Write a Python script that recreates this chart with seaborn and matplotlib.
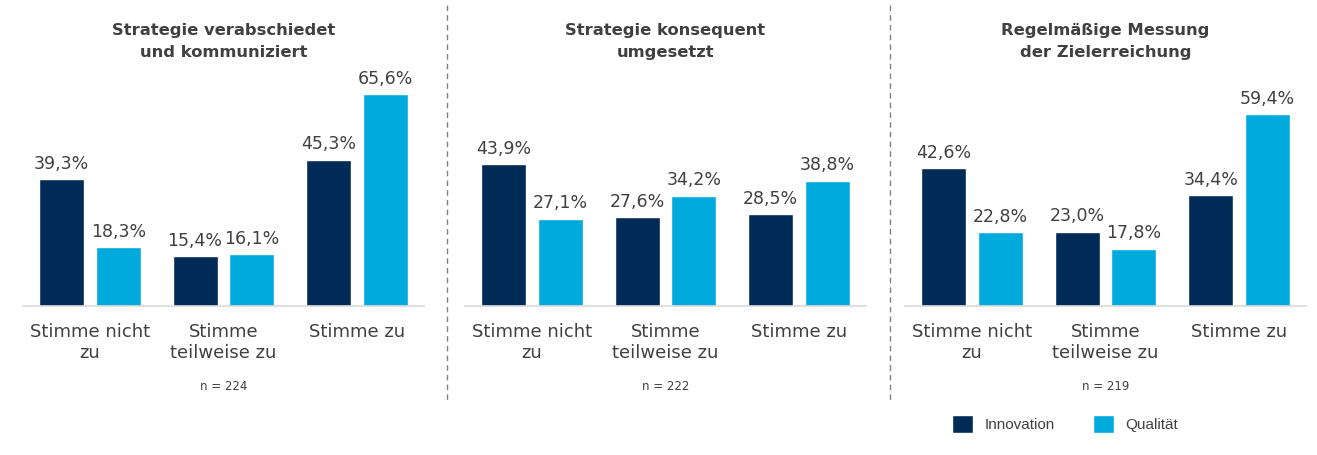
import matplotlib.pyplot as plt
import pandas as pd
import seaborn as sns
from matplotlib.lines import Line2D
from matplotlib.patches import Patch

categories = ["Stimme nicht\nzu", "Stimme\nteilweise zu", "Stimme zu"]
series = ["Innovation", "Qualität"]
titles = ["Strategie verabschiedet\nund kommuniziert",
          "Strategie konsequent\numgesetzt",
          "Regelmäßige Messung\nder Zielerreichung"]
innovation = [[39.3, 15.4, 45.3], [43.9, 27.6, 28.5], [42.6, 23.0, 34.4]]
qualitaet = [[18.3, 16.1, 65.6], [27.1, 34.2, 38.8], [22.8, 17.8, 59.4]]
n_values = [224, 222, 219]

colors = {"Innovation": "#002B56", "Qualität": "#00AADD"}
text_col = "#404040"

sns.set_style("white")
plt.rcParams['font.family'] = ['DejaVu Sans']

fig = plt.figure(figsize=(13.17, 4.55), dpi=100)
W, H = 1317, 455
lefts = [23, 465, 905]
width_px = 401
base_y = 306
top_y = 80

for i in range(3):
    ax = fig.add_axes([lefts[i] / W, (H - base_y) / H, width_px / W, (base_y - top_y) / H])
    df = pd.DataFrame({
        "Kategorie": categories * 2,
        "Serie": [series[0]] * 3 + [series[1]] * 3,
        "Wert": innovation[i] + qualitaet[i],
    })
    sns.barplot(data=df, x="Kategorie", y="Wert", hue="Serie", order=categories,
                hue_order=series, palette=colors, width=0.85, gap=0.21, saturation=1,
                legend=False, ax=ax, errorbar=None)
    for cont in ax.containers:
        ax.bar_label(cont, labels=[f"{v:.1f}".replace(".", ",") + "%" for v in cont.datavalues],
                     padding=4.5, fontsize=12.5, color=text_col)
    ax.set_ylim(0, 70)
    ax.set_xlim(-0.5, 2.5)
    ax.set_xlabel("")
    ax.set_ylabel("")
    ax.set_yticks([])
    for s in ["top", "right", "left"]:
        ax.spines[s].set_visible(False)
    ax.spines["bottom"].set_color("#D9D9D9")
    ax.spines["bottom"].set_linewidth(1.2)
    ax.set_xticks([0, 1, 2])
    ax.set_xticklabels(categories, fontsize=13, color=text_col, linespacing=1.25)
    ax.tick_params(axis="x", which="major", length=0, pad=12)
    ax.set_xticks([-0.5, 0.5, 1.5, 2.5], minor=True)
    ax.tick_params(axis="x", which="minor", length=5, color="#D9D9D9", width=1.2)
    ax.set_title(titles[i], fontsize=11.8, fontweight="bold", color=text_col, pad=16.5,
                 linespacing=1.55)
    ax.text((lefts[i] + width_px / 2) / W, (H - 387) / H, f"n = {n_values[i]}",
            transform=fig.transFigure, ha="center", va="center", fontsize=8.5, color=text_col)

for xs in [447, 890]:
    fig.add_artist(Line2D([xs / W, xs / W], [1 - 5 / H, 1 - 400 / H], transform=fig.transFigure,
                          color="#808080", linestyle=(0, (4, 3)), linewidth=1))

handles = [Patch(facecolor=colors[s], label=s) for s in series]
fig.legend(handles=handles, loc="center", bbox_to_anchor=(1065 / W, 1 - 424 / H), ncol=2,
           frameon=False, prop={"family": "Liberation Sans", "size": 11},
           labelcolor=text_col, handlelength=1.4, handleheight=1.4, columnspacing=2.5,
           handletextpad=0.75)

fig.savefig("out.png", dpi=100)
